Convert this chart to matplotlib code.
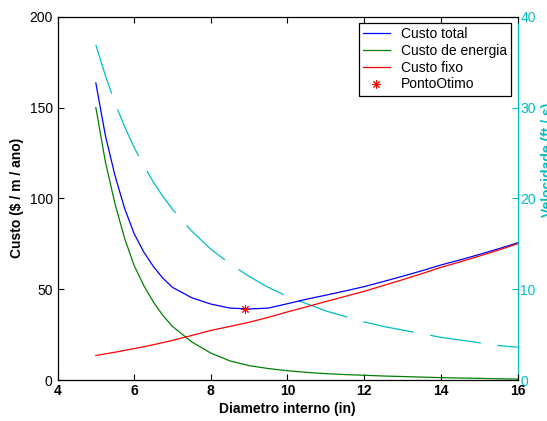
import matplotlib
matplotlib.use("Agg")
import matplotlib.pyplot as plt

plt.rcParams['font.family'] = ['Liberation Sans', 'DejaVu Sans']
plt.rcParams['lines.scale_dashes'] = False

diametro = [5, 5.25, 5.5, 5.75, 6, 6.25, 6.5, 6.75, 7, 7.5, 8, 8.5, 9, 9.5,
            10, 10.5, 11, 11.5, 12, 12.5, 13, 13.5, 14, 14.5, 15, 15.5, 16]
custo_total = [163.5, 134.5, 112.5, 94.5, 80.5, 70.5, 62.5, 56.0, 51.0, 45.3,
               41.8, 39.6, 39.1, 39.6, 42.0, 44.5, 46.7, 49.0, 51.4, 54.2,
               57.1, 60.1, 63.3, 66.1, 69.1, 72.2, 75.5]
custo_energia = [150, 120, 97, 78, 63, 52, 43, 35.5, 29.5, 21, 14.8, 10.5,
                 7.9, 6.3, 5.1, 4.2, 3.5, 3.0, 2.6, 2.2, 1.9, 1.6, 1.3, 1.1,
                 0.9, 0.7, 0.5]
custo_fixo = [13.5, 14.4, 15.3, 16.3, 17.3, 18.3, 19.4, 20.6, 21.8, 24.5,
              27.3, 29.5, 31.8, 34.5, 37.5, 40.3, 43.2, 46.0, 48.8, 52.0,
              55.2, 58.5, 62.0, 65.0, 68.2, 71.5, 75.0]
velocidade = [36.9, 33.5, 30.5, 27.9, 25.6, 23.6, 21.8, 20.2, 18.8, 16.4,
              14.4, 12.8, 11.4, 10.2, 9.2, 8.4, 7.6, 7.0, 6.4, 5.9, 5.5,
              5.1, 4.7, 4.4, 4.1, 3.8, 3.6]
ponto_otimo_x = [8.9]
ponto_otimo_y = [38.9]

cyan = (0.0, 0.75, 0.75)

fig = plt.figure(figsize=(5.47, 4.21), dpi=100)
ax = fig.add_axes([57.5 / 547, 41 / 421, 460 / 547, 363.3 / 421])
ax2 = ax.twinx()

ax.plot(diametro, custo_total, color='blue', lw=0.9, label='Custo total')
ax.plot(diametro, custo_energia, color=(0, 0.5, 0), lw=0.9, label='Custo de energia')
ax.plot(diametro, custo_fixo, color='red', lw=0.9, label='Custo fixo')
ax.plot(ponto_otimo_x, ponto_otimo_y, linestyle='none', marker=(8, 2, 0),
        color='red', markersize=6, mew=0.7, label='PontoOtimo')

ax2.plot(diametro, velocidade, color=cyan, lw=0.9, dashes=(37, 12))

ax.set_xlim(4, 16)
ax.set_ylim(0, 200)
ax2.set_ylim(0, 40)
ax.set_xticks([4, 6, 8, 10, 12, 14, 16])
ax.set_yticks([0, 50, 100, 150, 200])
ax2.set_yticks([0, 10, 20, 30, 40])

ax.tick_params(axis='x', direction='in', top=True, length=4, labelsize=10, pad=3)
ax.tick_params(axis='y', direction='in', right=False, length=4, labelsize=10)
for lab in ax.get_xticklabels():
    lab.set_fontweight('bold')
ax2.tick_params(axis='y', direction='in', length=4, labelsize=10,
                colors=cyan, pad=2)

ax2.spines['right'].set_color(cyan)
ax.spines['right'].set_visible(False)
for sp in ['left', 'bottom', 'top']:
    ax.spines[sp].set_linewidth(0.9)
ax2.spines['right'].set_linewidth(0.9)
ax2.spines['left'].set_visible(False)
ax2.spines['top'].set_visible(False)
ax2.spines['bottom'].set_visible(False)

ax.set_xlabel('Diametro interno (in)', fontsize=10, fontweight='bold', labelpad=3)
ax.set_ylabel(r'Custo (\$ / m / ano)', fontsize=10, fontweight='bold', labelpad=4)
fig.text(548 / 547, 1 - 160 / 421, 'Velocidade (ft / s)', rotation=90,
         ha='center', va='center', color=cyan, fontsize=10, fontweight='bold')

leg = ax.legend(loc='upper right', bbox_to_anchor=(511 / 547, 1 - 23 / 421),
                bbox_transform=fig.transFigure, fontsize=10, frameon=True,
                fancybox=False, edgecolor='black', framealpha=1,
                handlelength=1.9, labelspacing=0.2, borderpad=0.3,
                handletextpad=0.8, borderaxespad=0)
leg.get_frame().set_linewidth(0.9)
ax2.set_zorder(0)
ax.set_zorder(1)
ax.patch.set_visible(False)

fig.savefig('out.png', dpi=100)
